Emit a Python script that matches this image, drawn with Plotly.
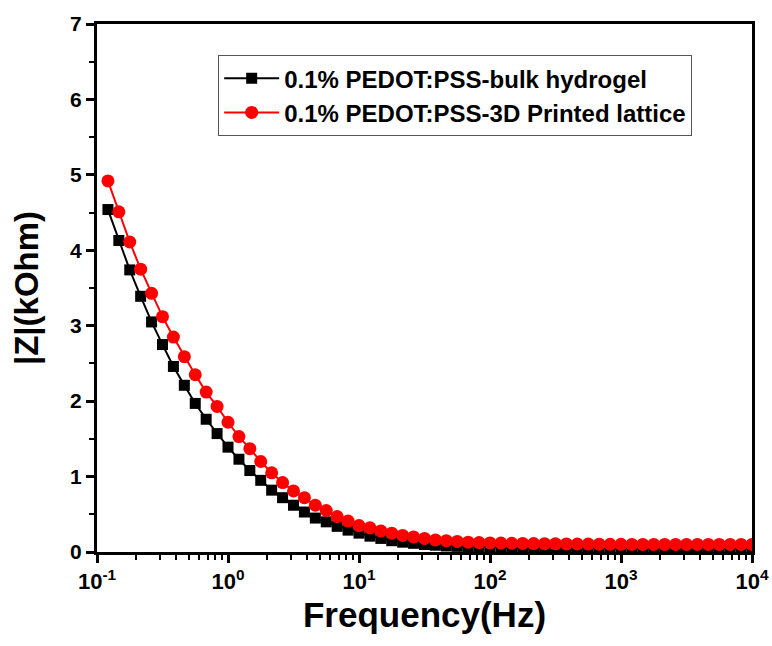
import plotly.graph_objects as go

freq_hz = [0.1212, 0.1468, 0.1778, 0.2154, 0.2610, 0.3162, 0.3831, 0.4642, 0.5623, 0.6813, 0.8254,
           1.0, 1.212, 1.468, 1.778, 2.154, 2.610, 3.162, 3.831, 4.642, 5.623, 6.813, 8.254,
           10.0, 12.12, 14.68, 17.78, 21.54, 26.10, 31.62, 38.31, 46.42, 56.23, 68.13, 82.54,
           100.0, 121.2, 146.8, 177.8, 215.4, 261.0, 316.2, 383.1, 464.2, 562.3, 681.3, 825.4,
           1000.0, 1212, 1468, 1778, 2154, 2610, 3162, 3831, 4642, 5623, 6813, 8254, 10000]

bulk_kohm = [4.54, 4.13, 3.74, 3.39, 3.05, 2.75, 2.46, 2.21, 1.97, 1.76, 1.57,
             1.39, 1.23, 1.08, 0.95, 0.82, 0.72, 0.62, 0.53, 0.45, 0.40, 0.34,
             0.29, 0.25, 0.21, 0.18, 0.15, 0.13, 0.115, 0.10, 0.09, 0.08, 0.075,
             0.07, 0.065, 0.06, 0.06, 0.058, 0.057, 0.056, 0.055, 0.055, 0.054,
             0.054, 0.053, 0.053, 0.053, 0.052, 0.052, 0.052, 0.052, 0.051, 0.051,
             0.051, 0.051, 0.05, 0.05, 0.05, 0.05, 0.05]

lattice_kohm = [4.92, 4.51, 4.11, 3.75, 3.43, 3.12, 2.85, 2.59, 2.35, 2.12, 1.93,
                1.72, 1.53, 1.37, 1.20, 1.05, 0.92, 0.81, 0.72, 0.62, 0.55, 0.47,
                0.41, 0.35, 0.32, 0.28, 0.25, 0.22, 0.20, 0.18, 0.16, 0.15, 0.14,
                0.13, 0.125, 0.12, 0.118, 0.116, 0.114, 0.112, 0.11, 0.108, 0.107,
                0.106, 0.105, 0.104, 0.103, 0.102, 0.101, 0.10, 0.10, 0.10, 0.10,
                0.10, 0.10, 0.10, 0.10, 0.10, 0.10, 0.10]

series_names = ["0.1% PEDOT:PSS-bulk hydrogel", "0.1% PEDOT:PSS-3D Printed lattice"]

x_tick_vals = [0.1, 1, 10, 100, 1000, 10000]
x_tick_text = ["10<sup>-1</sup>", "10<sup>0</sup>", "10<sup>1</sup>", "10<sup>2</sup>",
               "10<sup>3</sup>", "10<sup>4</sup>"]

FONT = "Liberation Sans, Arial, sans-serif"

fig = go.Figure()
fig.add_trace(go.Scatter(
    x=freq_hz, y=bulk_kohm, name=series_names[0], mode="lines+markers",
    line=dict(color="black", width=2),
    marker=dict(symbol="square", size=11, color="black"),
))
fig.add_trace(go.Scatter(
    x=freq_hz, y=lattice_kohm, name=series_names[1], mode="lines+markers",
    line=dict(color="#ff0000", width=2),
    marker=dict(symbol="circle", size=13, color="#ff0000"),
))

fig.update_layout(
    width=772, height=646,
    margin=dict(l=97, r=20, t=24, b=94),
    plot_bgcolor="white", paper_bgcolor="white",
    font=dict(family=FONT, color="black"),
    legend=dict(
        x=0.185, y=0.941, xanchor="left", yanchor="top",
        bordercolor="#555555", borderwidth=1, bgcolor="white",
        font=dict(size=24, family=FONT, weight="bold"),
        tracegroupgap=0, itemwidth=55,
    ),
    xaxis=dict(
        type="log", range=[-1, 4], automargin=False,
        tickmode="array", tickvals=x_tick_vals, ticktext=x_tick_text,
        ticks="outside", ticklen=8, tickwidth=3, tickcolor="black",
        showline=True, linewidth=3, linecolor="black", mirror=True,
        showgrid=False, zeroline=False,
        tickfont=dict(size=22, family=FONT, weight="bold"),
        minor=dict(ticks="outside", ticklen=5, tickwidth=2, tickcolor="black",
                   dtick="D1", showgrid=False),
        title=dict(text="Frequency(Hz)", font=dict(size=35, family=FONT, weight="bold"),
                   standoff=10),
    ),
    yaxis=dict(
        range=[0, 7], dtick=1, automargin=False,
        ticks="outside", ticklen=8, tickwidth=3, tickcolor="black",
        showline=True, linewidth=3, linecolor="black", mirror=True,
        showgrid=False, zeroline=False,
        tickfont=dict(size=21, family=FONT, weight="bold"),
        minor=dict(ticks="outside", ticklen=5, tickwidth=2, tickcolor="black",
                   dtick=0.5, showgrid=False),
        title=dict(text="|Z|(kOhm)", font=dict(size=33, family=FONT, weight="bold"),
                   standoff=22),
    ),
)

# remove the browser's default 8px body margin so the figure fills the window exactly
fig.write_html(
    "out.html",
    config={"displayModeBar": False},
    post_script="document.body.style.margin='0';document.body.style.overflow='hidden';",
)
